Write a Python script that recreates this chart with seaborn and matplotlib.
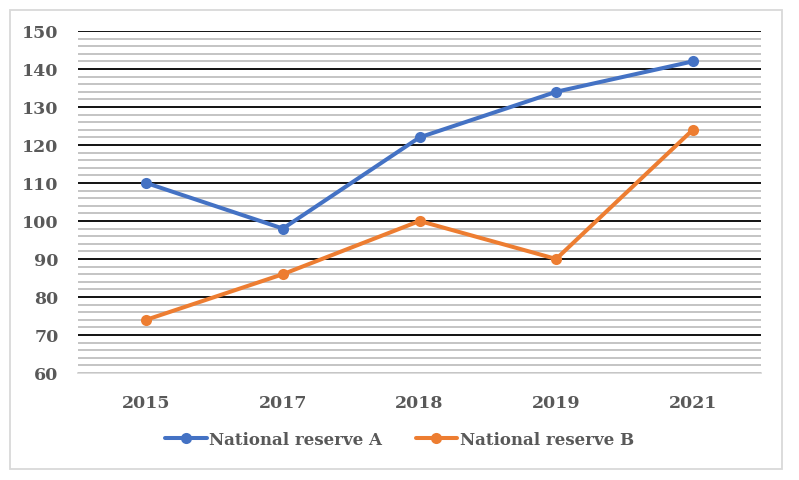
import matplotlib
matplotlib.use("Agg")
import matplotlib.pyplot as plt
import matplotlib.patches as mpatches
from matplotlib.ticker import MultipleLocator
import seaborn as sns
import pandas as pd

years = ["2015", "2017", "2018", "2019", "2021"]
reserve_a = [110, 98, 122, 134, 142]
reserve_b = [74, 86, 100, 90, 124]
series_names = ["National reserve A", "National reserve B"]

df = pd.DataFrame({
    "year": years * 2,
    "value": reserve_a + reserve_b,
    "series": [series_names[0]] * len(years) + [series_names[1]] * len(years),
})

sns.set_style("white")
plt.rcParams["font.family"] = ["DejaVu Serif"]

fig = plt.figure(figsize=(7.99, 4.81), dpi=100)
ax = fig.add_axes([0.0976, 0.2225, 0.855, 0.711])

# grid first so lines sit on top
ax.set_ylim(60, 150)
ax.yaxis.set_major_locator(MultipleLocator(10))
ax.yaxis.set_minor_locator(MultipleLocator(2))
ax.grid(which="minor", axis="y", color="#BFBFBF", linewidth=1.3)
ax.grid(which="major", axis="y", color="black", linewidth=1.3)
ax.set_axisbelow(True)

sns.lineplot(data=df, x="year", y="value", hue="series", sort=False,
             palette=["#4472C4", "#ED7D31"], marker="o", markersize=8,
             markeredgewidth=0, linewidth=2.9, ax=ax, legend=False)

ax.set_xlim(-0.5, 4.5)
ax.set_xlabel("")
ax.set_ylabel("")
for side in ["top", "right", "left"]:
    ax.spines[side].set_visible(False)
ax.spines["bottom"].set_color("#D9D9D9")
ax.spines["bottom"].set_linewidth(1.3)
ax.tick_params(axis="both", which="both", length=0, labelsize=12.5, labelcolor="#595959")
ax.tick_params(axis="x", pad=15)
ax.tick_params(axis="y", pad=14)
for lab in ax.get_xticklabels() + ax.get_yticklabels():
    lab.set_fontweight("bold")

handles = [plt.Line2D([], [], color=c, marker="o", markersize=8, markeredgewidth=0, linewidth=2.9)
           for c in ["#4472C4", "#ED7D31"]]
leg = fig.legend(handles, series_names, loc="center", bbox_to_anchor=(0.5, 0.085),
                 ncol=2, frameon=False, handlelength=2.5, handletextpad=0.15, columnspacing=2.0,
                 prop={"weight": "bold", "size": 12})
for t in leg.get_texts():
    t.set_color("#595959")

fig.patches.append(mpatches.Rectangle((10 / 799, 11 / 481), 772 / 799, 459 / 481,
                                      transform=fig.transFigure, fill=False,
                                      edgecolor="#D9D9D9", linewidth=1.3))

fig.savefig("out.png", dpi=100)
plt.close(fig)
